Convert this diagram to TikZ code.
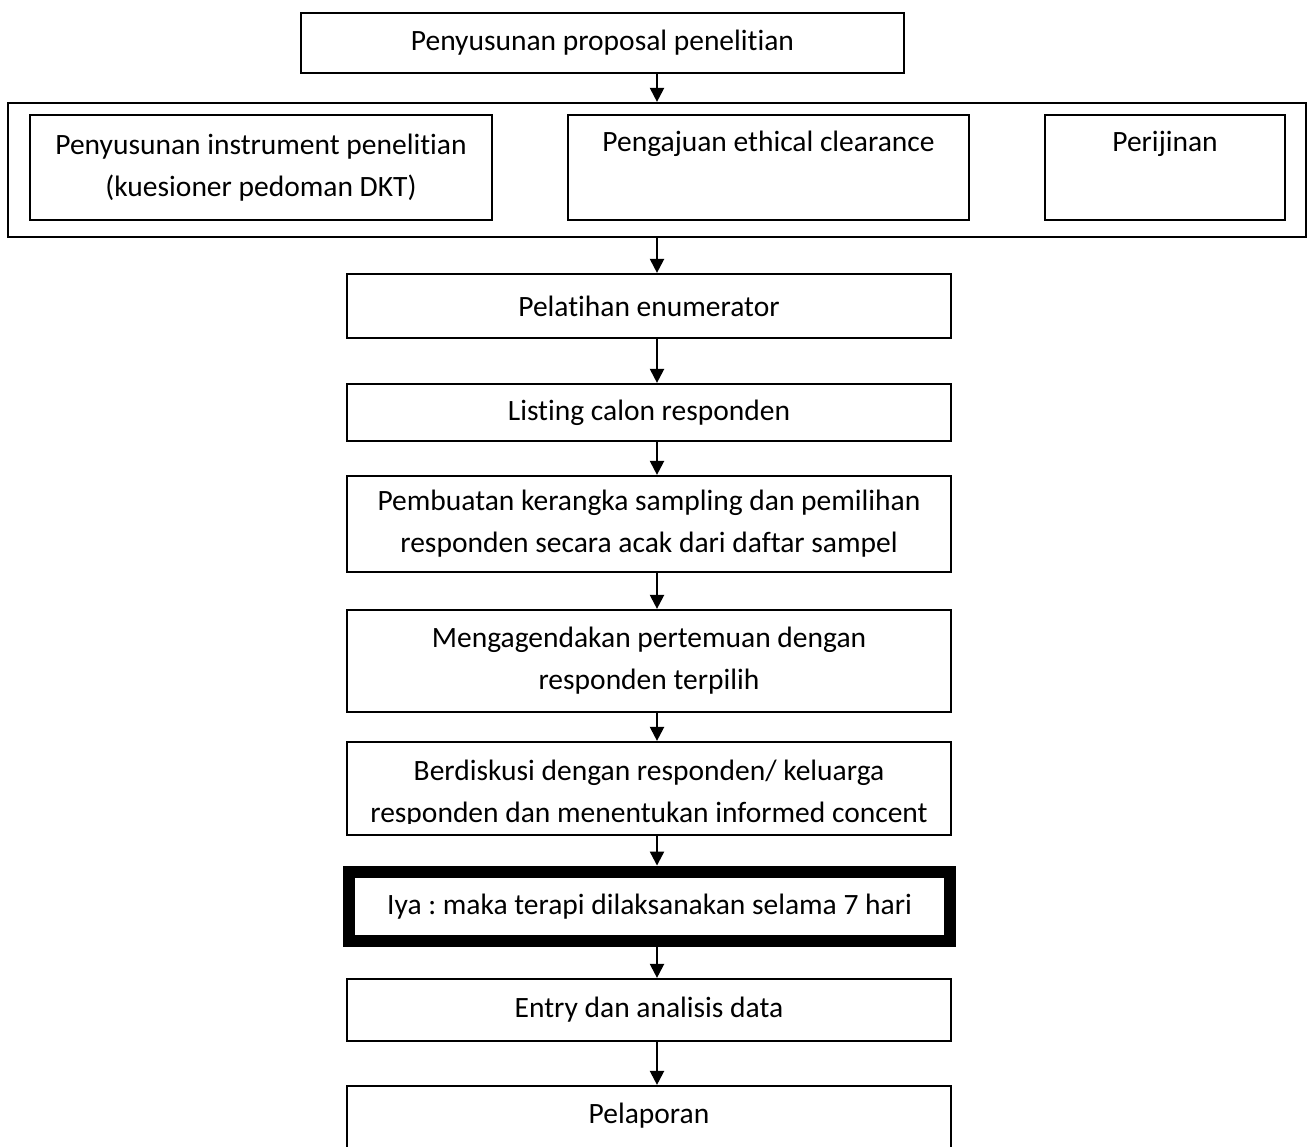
\documentclass[tikz,border=0pt]{standalone}
\usepackage{fontspec}
\setmainfont{Carlito}[Ligatures={NoCommon,NoRare,NoContextual}]
\usetikzlibrary{arrows.meta}
\frenchspacing

\begin{document}
\begin{tikzpicture}[x=1pt,y=-1pt,
    every node/.style={font=\fontsize{29.5}{42}\selectfont},
    box/.style={draw=black,line width=2.2pt,rectangle,inner sep=0pt,align=center},
    toptext/.style={anchor=base,inner sep=0pt},
    arr/.style={line width=2.2pt,-{Triangle[length=14pt,width=14pt]}}]
    \useasboundingbox (0,0) rectangle (1311,1147);
    \node [box,minimum width=603pt,minimum height=60pt] (prop) at (602.5,43) {Penyusunan proposal penelitian};
    \node [box,minimum width=1298pt,minimum height=134pt] (outer) at (657,170) {};
    \node [box,minimum width=462pt,minimum height=105pt] (instr) at (261,167.5) {Penyusunan instrument penelitian\\(kuesioner pedoman DKT)};
    \node [box,minimum width=401pt,minimum height=105pt] (ethic) at (768.5,167.5) {};
    \node [toptext] (ethicT) at ([yshift=-38pt]ethic.north) {Pengajuan ethical clearance};
    \node [box,minimum width=240pt,minimum height=105pt] (ijin) at (1165,167.5) {};
    \node [toptext] (ijinT) at ([yshift=-38pt]ijin.north) {Perijinan};
    \node [box,minimum width=604pt,minimum height=64pt] (latih) at (649,306) {Pelatihan enumerator};
    \node [box,minimum width=604pt,minimum height=57pt] (list) at (649,412.5) {Listing calon responden};
    \node [box,minimum width=604pt,minimum height=96pt] (sampel) at (649,524) {Pembuatan kerangka sampling dan pemilihan\\responden secara acak dari daftar sampel};
    \node [box,minimum width=604pt,minimum height=102pt] (agenda) at (649,661) {Mengagendakan pertemuan dengan\\responden terpilih};
    \node [box,minimum width=604pt,minimum height=93pt] (diskusi) at (649,788.5) {};
    \begin{scope}
        \clip (diskusi.north west) rectangle ([yshift=13pt]diskusi.south east);
        \node [align=center,inner sep=0pt] (diskusiT) at ([yshift=-5pt]diskusi.center) {Berdiskusi dengan responden/ keluarga\\responden dan menentukan informed concent};
    \end{scope}
    \node [box,line width=12pt,minimum width=601pt,minimum height=69.5pt] (iya) at (649.5,906.3) {Iya : maka terapi dilaksanakan selama 7 hari};
    \node [box,minimum width=604pt,minimum height=62pt] (entry) at (649,1010) {Entry dan analisis data};
    \node [box,minimum width=604pt,minimum height=74pt] (lapor) at (649,1123) {};
    \node [toptext] (laporT) at ([yshift=-39pt]lapor.north) {Pelaporan};
    \draw [arr] (prop.south -| outer.north) -- (outer.north);
    \draw [arr] (outer.south) -- (outer.south |- latih.north);
    \foreach \a/\b in {latih/list,list/sampel,sampel/agenda,agenda/diskusi,diskusi/iya,iya/entry,entry/lapor}
        \draw [arr] (\a.south -| outer.south) -- (\b.north -| outer.south);
\end{tikzpicture}
\end{document}
